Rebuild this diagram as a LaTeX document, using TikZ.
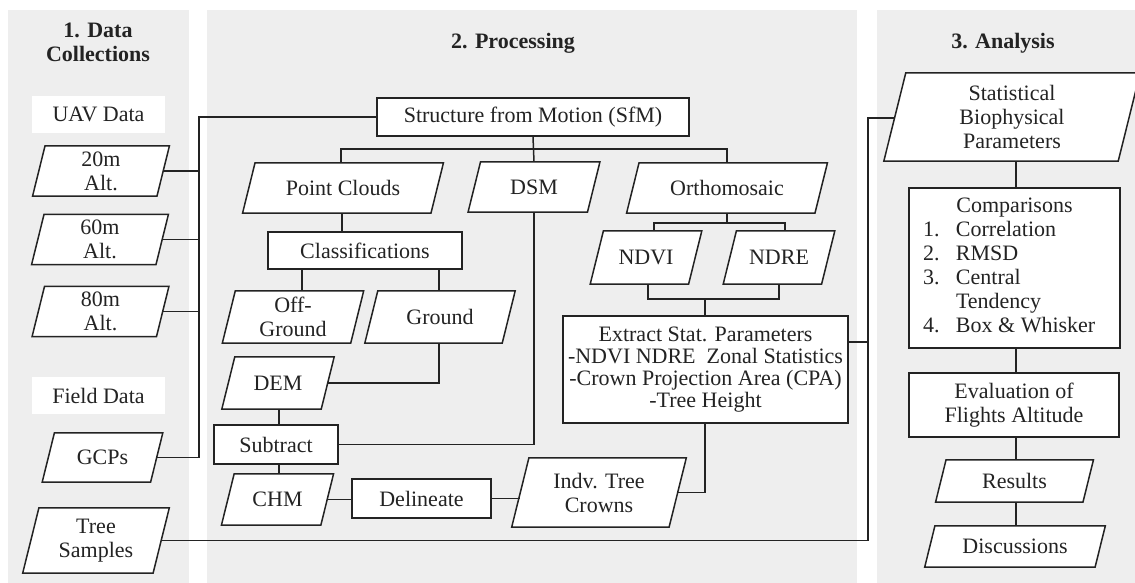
\documentclass[tikz,border=0pt]{standalone}
\usepackage{fontspec}
\setmainfont{Liberation Serif}
\usetikzlibrary{calc}
\pgfdeclarelayer{panel}
\pgfdeclarelayer{shape}
\pgfsetlayers{panel,shape,main}
\definecolor{panelgray}{RGB}{238,238,238}
\definecolor{ink}{RGB}{35,35,35}
\tikzset{
  lbl/.style={font=\fontsize{22}{24}\selectfont, text=ink, align=center, inner sep=0pt},
  rbox/.style={lbl, draw=ink, line width=1.5pt, fill=white},
  ptext/.style={lbl},
  pline/.style={draw=ink, line width=1.5pt, fill=white, line join=miter},
  conn/.style={draw=ink, line width=1.5pt},
  panelbox/.style={fill=panelgray, draw=none},
  titlelbl/.style={lbl, font=\fontsize{22}{24}\selectfont\bfseries},
  whitebox/.style={lbl, fill=white},
}
\newcommand{\pgram}[6]{%
  \node[ptext, minimum width=#4, minimum height=#5] (#1) at (#2,#3) {#6};
  \begin{pgfonlayer}{shape}
    \draw[pline] ([xshift=0.125*#5]#1.north west) -- ([xshift=0.125*#5]#1.north east)
      -- ([xshift=-0.125*#5]#1.south east) -- ([xshift=-0.125*#5]#1.south west) -- cycle;
  \end{pgfonlayer}}
\begin{document}
\begin{tikzpicture}[x=1pt,y=-1pt]
\useasboundingbox (0,0) rectangle (1135,583);
% panels
\begin{pgfonlayer}{panel}
  \fill[panelbox] (8,10) rectangle (189,583);
  \fill[panelbox] (207,10) rectangle (857,583);
  \fill[panelbox] (877,10) rectangle (1135,583);
\end{pgfonlayer}
% titles
\node[titlelbl] (t1) at (98,42) {1. Data\\Collections};
\node[titlelbl] (t2) at (513,43) {2. Processing};
\node[titlelbl] (t3) at (1003,43) {3. Analysis};
% column 1
\node[whitebox, minimum width=133, minimum height=37] (uav) at (98.5,114.5) {UAV Data};
\node[whitebox, minimum width=133, minimum height=37] (field) at (98.5,395.5) {Field Data};
\pgram{a20}{101}{171}{124}{50}{20m\\Alt.}
\pgram{a60}{100}{239.5}{124}{50}{60m\\Alt.}
\pgram{a80}{100.5}{311.5}{124}{50}{80m\\Alt.}
\pgram{gcp}{102.5}{457.5}{108}{49}{GCPs}
\pgram{tree}{96}{540.5}{130}{65}{Tree\\Samples}
% column 2
\node[rbox, minimum width=312, minimum height=38] (sfm) at (533,117) {Structure from Motion (SfM)};
\pgram{pc}{343}{188}{188}{50}{Point Clouds}
\pgram{dsm}{534}{187}{119}{50}{DSM}
\pgram{ortho}{727}{188}{188}{50}{Orthomosaic}
\node[rbox, minimum width=194, minimum height=37] (cls) at (365,250.5) {Classifications};
\pgram{off}{293}{317}{128}{52}{Off-\\Ground}
\pgram{gnd}{440}{317}{137}{52}{Ground}
\pgram{dem}{278}{383}{99}{52}{DEM}
\node[rbox, minimum width=124, minimum height=39] (sub) at (276,444.5) {Subtract};
\pgram{chm}{277.5}{499.5}{99}{51}{CHM}
\node[rbox, minimum width=139, minimum height=39] (del) at (421.5,498.5) {Delineate};
\pgram{indv}{599}{492.5}{157}{69}{Indv. Tree\\Crowns}
\pgram{ndvi}{646}{257.5}{98}{53}{NDVI}
\pgram{ndre}{779}{257.5}{98}{53}{NDRE}
\node[rbox, minimum width=285, minimum height=107, font=\fontsize{22}{22}\selectfont] (ext) at (705.5,369.5)
  {Extract Stat. Parameters\\-NDVI NDRE\ \ Zonal Statistics\\-Crown Projection Area (CPA)\\-Tree Height};
% column 3
\pgram{stat}{1012}{117}{234}{88}{Statistical\\Biophysical\\Parameters}
\node[rbox, minimum width=211, minimum height=160] (cmp) at (1014.5,268)
  {\begin{tabular}{@{}p{33pt}@{}p{150pt}@{}}
   \multicolumn{2}{@{}c@{}}{Comparisons}\\
   1. & Correlation\\
   2. & RMSD\\
   3. & Central\\
      & Tendency\\
   4. & Box \& Whisker
   \end{tabular}};
\node[rbox, minimum width=210, minimum height=64] (eva) at (1014,405) {Evaluation of\\Flights Altitude};
\pgram{res}{1014.5}{481}{147}{42}{Results}
\pgram{disc}{1015}{546.5}{170}{41}{Discussions}
% bus coordinates
\coordinate (busL) at (199,117);
\coordinate (busT) at (534,149);
\coordinate (oB) at (727,223);
\coordinate (oC) at (705,299);
\coordinate (busR) at (868,118);
% connectors column 1
\draw[conn] (sfm.west) -- (busL) -- (busL |- gcp.east) -- (gcp.east);
\draw[conn] (a20.east) -- (busL |- a20.east);
\draw[conn] (a60.east) -- (busL |- a60.east);
\draw[conn] (a80.east) -- (busL |- a80.east);
% connectors column 2
\draw[conn] (sfm.south) -- (dsm.north);
\draw[conn] ([xshift=-2]pc.north) -- ([xshift=-2]pc.north |- busT) -- (ortho.north |- busT) -- (ortho.north);
\draw[conn] ([xshift=-1]pc.south) -- ([xshift=-1]pc.south |- cls.north);
\draw[conn] ([xshift=9]off.north) -- ([xshift=9]off.north |- cls.south);
\draw[conn] ([xshift=-1]gnd.north) -- ([xshift=-1]gnd.north |- cls.south);
\draw[conn] ([xshift=-1]gnd.south) |- (dem.east);
\draw[conn] ([xshift=1]dem.south) -- ([xshift=1]dem.south |- sub.north);
\draw[conn] (sub.east) -| (dsm.south);
\draw[conn] ([xshift=1.5]chm.north) -- ([xshift=1.5]chm.north |- sub.south);
\draw[conn] (chm.east) -- (chm.east -| del.west);
\draw[conn] (del.east) -- (del.east -| indv.west);
\draw[conn] (indv.east) -| ([xshift=-0.5]ext.south);
\draw[conn] (ortho.south) -- (oB);
\draw[conn] ([xshift=8]ndvi.north) -- ([xshift=8]ndvi.north |- oB) -- ([xshift=6]ndre.north |- oB) -- ([xshift=6]ndre.north);
\draw[conn] ([xshift=2]ndvi.south) -- ([xshift=2]ndvi.south |- oC) -- (ndre.south |- oC) -- (ndre.south);
\draw[conn] ([xshift=-0.5]ext.north) -- (oC);
% connectors to analysis
\draw[conn] ([yshift=27.5]ext.east) -- ([yshift=27.5]ext.east -| busR);
\draw[conn] (stat.west |- busR) -- (busR) -- (busR |- tree.east) -- (tree.east);
\draw[conn] ([xshift=1.5]cmp.north) -- ([xshift=1.5]cmp.north |- stat.south);
\draw[conn] ([xshift=1.5]cmp.south) -- ([xshift=1.5]cmp.south |- eva.north);
\draw[conn] ([xshift=1.5]res.north) -- ([xshift=1.5]res.north |- eva.south);
\draw[conn] ([xshift=1]disc.north) -- ([xshift=1]disc.north |- res.south);
\end{tikzpicture}
\end{document}
